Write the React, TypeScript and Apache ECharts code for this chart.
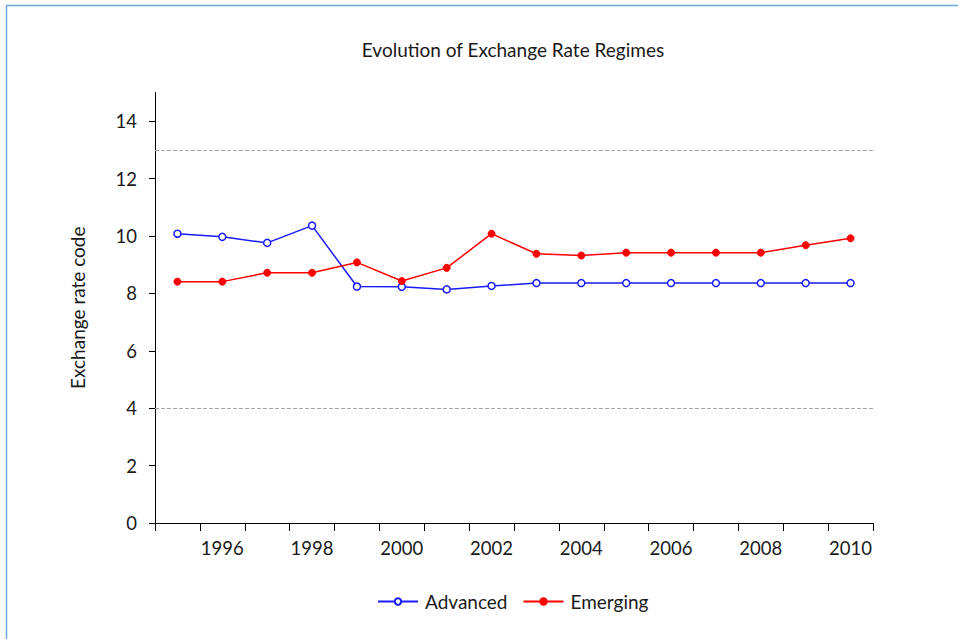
import React, { useEffect, useRef } from "react";
import * as echarts from "echarts";

const years = ["1995","1996","1997","1998","1999","2000","2001","2002","2003","2004","2005","2006","2007","2008","2009","2010"];
const advanced = [10.08, 9.97, 9.76, 10.36, 8.24, 8.23, 8.14, 8.26, 8.36, 8.36, 8.36, 8.36, 8.36, 8.36, 8.36, 8.36];
const emerging = [8.41, 8.41, 8.72, 8.72, 9.08, 8.43, 8.89, 10.08, 9.38, 9.32, 9.42, 9.42, 9.42, 9.42, 9.68, 9.92];
const yTicks = [0, 2, 4, 6, 8, 10, 12, 14];
const refLines = [13, 4];

const FONT = "Lato";
const TXT = "#1a1a1a";

export default function App() {
  const ref = useRef<HTMLDivElement>(null);
  useEffect(() => {
    document.body.style.margin = "0";
    const chart = echarts.init(ref.current!, null, { renderer: "svg" });
    chart.setOption({
      animation: false,
      backgroundColor: "#ffffff",
      textStyle: { fontFamily: FONT, color: TXT },
      title: {
        text: "Evolution of Exchange Rate Regimes",
        left: 508,
        textAlign: "center",
        top: 35,
        textStyle: { fontFamily: FONT, fontSize: 19, fontWeight: "normal", color: TXT },
      },
      graphic: [
        {
          type: "rect",
          shape: { x: 6.5, y: 5.5, width: 1000, height: 1000 },
          style: { fill: "none", stroke: "#6fa8dc", lineWidth: 1.5 },
          silent: true,
        },
      ],
      grid: { left: 155, right: 85, top: 92.5, bottom: 116 },
      legend: {
        bottom: 23,
        left: 372,
        itemWidth: 40,
        itemHeight: 8,
        itemGap: 15,
        textStyle: { fontFamily: FONT, fontSize: 19, color: TXT, padding: [0, 0, 0, 2] },
        data: ["Advanced", "Emerging"],
      },
      xAxis: {
        type: "category",
        data: years,
        boundaryGap: true,
        axisLine: { lineStyle: { color: "#000", width: 1 } },
        axisTick: { show: true, interval: 0, alignWithLabel: false, length: 8, lineStyle: { color: "#000" } },
        axisLabel: {
          interval: (i: number) => i % 2 === 1,
          margin: 15,
          fontFamily: FONT,
          fontSize: 18.5,
          color: TXT,
        },
        splitLine: { show: false },
      },
      yAxis: {
        type: "value",
        min: 0,
        max: 15,
        interval: 2,
        name: "Exchange rate code",
        nameLocation: "middle",
        nameGap: 68,
        nameTextStyle: { fontFamily: FONT, fontSize: 19, color: TXT },
        axisLine: { show: true, lineStyle: { color: "#000", width: 1 } },
        axisTick: { show: true, length: 6, customValues: yTicks, lineStyle: { color: "#000" } },
        axisLabel: { customValues: yTicks, margin: 18, fontFamily: FONT, fontSize: 18.5, color: TXT },
        splitLine: { show: false },
      },
      series: [
        {
          name: "Advanced",
          type: "line",
          data: advanced,
          symbol: "circle",
          symbolSize: 7,
          showAllSymbol: true,
          lineStyle: { color: "#1a1aff", width: 1.5 },
          itemStyle: { color: "#ffffff", borderColor: "#1a1aff", borderWidth: 1.5 },
          markLine: {
            silent: true,
            symbol: "none",
            label: { show: false },
            lineStyle: { color: "#a6a6a6", type: "dashed", width: 1 },
            data: refLines.map((v) => ({ yAxis: v })),
          },
        },
        {
          name: "Emerging",
          type: "line",
          data: emerging,
          symbol: "circle",
          symbolSize: 7,
          showAllSymbol: true,
          lineStyle: { color: "#ff0000", width: 1.5 },
          itemStyle: { color: "#ff0000", borderColor: "#ff0000", borderWidth: 1 },
        },
      ],
    });
    return () => chart.dispose();
  }, []);
  return <div ref={ref} style={{ width: 958, height: 639 }} />;
}
